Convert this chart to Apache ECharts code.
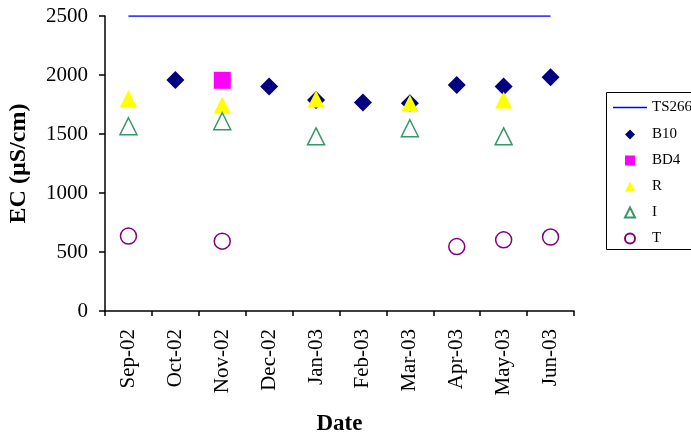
<!DOCTYPE html>
<html>
<head>
<meta charset="utf-8">
<title>EC by date</title>
<script src="https://cdn.jsdelivr.net/npm/echarts@6/dist/echarts.min.js"></script>
<style>
  html, body { margin: 0; padding: 0; background: #ffffff; }
  #chart { width: 691px; height: 439px; }
</style>
</head>
<body>
<div id="chart"></div>
<script>
// Sampling months
const categories = ['Sep-02', 'Oct-02', 'Nov-02', 'Dec-02', 'Jan-03', 'Feb-03', 'Mar-03', 'Apr-03', 'May-03', 'Jun-03'];

// Guideline value TS266 (µS/cm)
const ts266 = [2500, 2500, 2500, 2500, 2500, 2500, 2500, 2500, 2500, 2500];

// Electrical conductivity per site (µS/cm)
const b10 = [null, 1957, null, 1903, 1789, 1768, 1761, 1915, 1903, 1980];
const bd4 = [null, null, 1955, null, null, null, null, null, null, null];
const r = [1800, null, 1746, null, 1797, null, 1761, null, 1789, null];
const i = [1566, null, 1608, null, 1480, null, 1549, null, 1480, null];
const t = [635, null, 592, null, null, null, null, 546, 603, 627];

// Y axis ticks
const yTicks = [0, 500, 1000, 1500, 2000, 2500];

const serif = 'Liberation Serif';
const chart = echarts.init(document.getElementById('chart'), null, { renderer: 'canvas' });

const legendText = { fontFamily: serif, fontSize: 15, color: '#000' };

chart.setOption({
  backgroundColor: '#ffffff',
  animation: false,
  textStyle: { fontFamily: serif, color: '#000' },
  grid: { left: 105, right: 117, top: 16, bottom: 128, containLabel: false, outerBoundsMode: 'none' },
  xAxis: {
    type: 'category',
    data: categories,
    boundaryGap: true,
    name: 'Date',
    nameLocation: 'middle',
    nameGap: 102,
    nameTextStyle: { fontFamily: serif, fontWeight: 'bold', fontSize: 23, color: '#000' },
    axisLine: { lineStyle: { color: '#000', width: 1.5 } },
    axisTick: { show: true, inside: false, length: 5, alignWithLabel: false, lineStyle: { color: '#000', width: 1.5 } },
    axisLabel: { rotate: 90, margin: 18, fontFamily: serif, fontSize: 21, color: '#000', interval: 0 },
    splitLine: { show: false }
  },
  yAxis: {
    type: 'value',
    min: yTicks[0],
    max: yTicks[yTicks.length - 1],
    interval: yTicks[1] - yTicks[0],
    name: 'EC (µS/cm)',
    nameLocation: 'middle',
    nameRotate: 90,
    nameGap: 74,
    nameTextStyle: { fontFamily: serif, fontWeight: 'bold', fontSize: 24, color: '#000' },
    axisLine: { show: true, lineStyle: { color: '#000', width: 1.5 } },
    axisTick: { show: true, inside: false, length: 6, lineStyle: { color: '#000', width: 1.5 } },
    axisLabel: { margin: 17, fontFamily: serif, fontSize: 21, color: '#000', formatter: v => String(v) },
    splitLine: { show: false }
  },
  // Legend frame
  graphic: [{
    type: 'rect',
    shape: { x: 606.5, y: 92.5, width: 100, height: 157 },
    style: { fill: '#ffffff', stroke: '#000', lineWidth: 1 },
    z: 0
  }],
  legend: [
    {
      orient: 'vertical',
      left: 613,
      top: 100,
      padding: 0,
      itemWidth: 34,
      itemHeight: 1.5,
      textStyle: legendText,
      data: [{ name: 'TS266', icon: 'rect', itemStyle: { color: '#0000ff' } }],
      z: 5
    },
    {
      orient: 'vertical',
      left: 624,
      top: 127,
      padding: 0,
      itemGap: 11,
      itemWidth: 10,
      itemHeight: 10,
      textStyle: Object.assign({ padding: [0, 0, 0, 12] }, legendText),
      data: ['B10', 'BD4', 'R', 'I', 'T'],
      z: 5
    }
  ],
  series: [
    {
      name: 'TS266',
      type: 'line',
      data: ts266,
      symbol: 'none',
      showSymbol: false,
      lineStyle: { color: '#0000ff', width: 1.5 },
      itemStyle: { color: '#0000ff' }
    },
    {
      name: 'B10',
      type: 'scatter',
      data: b10,
      symbol: 'diamond',
      symbolSize: 18,
      itemStyle: { color: '#000080', opacity: 1 }
    },
    {
      name: 'BD4',
      type: 'scatter',
      data: bd4,
      symbol: 'rect',
      symbolSize: 17,
      itemStyle: { color: '#ff00ff', opacity: 1 }
    },
    {
      name: 'R',
      type: 'scatter',
      data: r,
      symbol: 'triangle',
      symbolSize: 17,
      itemStyle: { color: '#ffff00', opacity: 1 }
    },
    {
      name: 'I',
      type: 'scatter',
      data: i,
      symbol: 'triangle',
      symbolSize: 17,
      itemStyle: { color: 'rgba(255,255,255,0)', borderColor: '#339966', borderWidth: 1.5, opacity: 1 }
    },
    {
      name: 'T',
      type: 'scatter',
      data: t,
      symbol: 'circle',
      symbolSize: 16,
      itemStyle: { color: 'rgba(255,255,255,0)', borderColor: '#800080', borderWidth: 1.5, opacity: 1 }
    }
  ]
});
</script>
</body>
</html>
